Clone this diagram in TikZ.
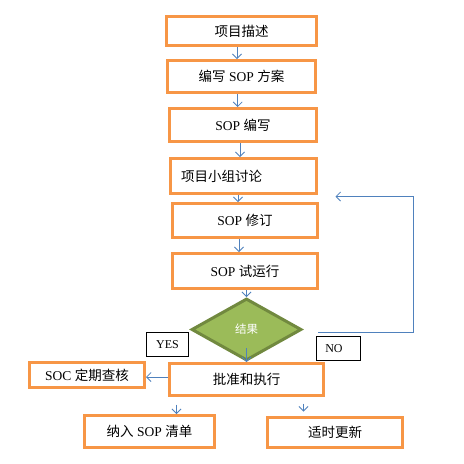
\documentclass[tikz,border=0pt]{standalone}
\usepackage{fontspec}
\setmainfont{Liberation Serif}
\newfontfamily\cjk{Noto Sans CJK SC}
\usetikzlibrary{arrows.meta,shapes.geometric}
\definecolor{orng}{HTML}{F79646}
\definecolor{gfill}{HTML}{9BBB59}
\definecolor{gline}{HTML}{71893F}
\definecolor{blu}{HTML}{4F81BD}
\tikzset{
  obox/.style={draw=orng, line width=3pt, fill=white, inner sep=0pt,
    font=\fontsize{13.5pt}{16pt}\selectfont},
  lbox/.style={draw=black, line width=0.8pt, fill=white, inner sep=0pt,
    font=\fontsize{12pt}{14pt}\selectfont},
  dec/.style={diamond, draw=gline, fill=gfill, line width=3pt, inner sep=0pt,
    text=white, font=\fontsize{11.5pt}{14pt}\selectfont\cjk},
  arr/.style={draw=blu, line width=0.8pt, -{Straight Barb[length=4.5pt,width=9pt]}}
}
\begin{document}
\begin{tikzpicture}[x=1pt,y=-1pt]
\useasboundingbox[fill=white] (0,0) rectangle (464,464);
\node[obox, minimum width=150pt, minimum height=29pt] (b1) at (241.5,31) {\cjk 项目描述};
\node[obox, minimum width=148pt, minimum height=32pt] (b2) at (241.5,76.5) {{\cjk 编写} SOP {\cjk 方案}};
\node[obox, minimum width=147pt, minimum height=33pt] (b3) at (243,125) {SOP {\cjk 编写}};
\node[obox, minimum width=146pt, minimum height=35pt, inner xsep=10.5pt, text width=125pt, align=left] (b4) at (243.5,176) {\cjk 项目小组讨论};
\node[obox, minimum width=145pt, minimum height=34pt] (b5) at (245,220.5) {SOP {\cjk 修订}};
\node[obox, minimum width=145pt, minimum height=35pt] (b6) at (245,271) {SOP {\cjk 试运行}};
\node[dec, minimum width=110pt, minimum height=62pt] (d) at (246.5,329.5) {结果};
\node[obox, minimum width=154pt, minimum height=32pt] (ap) at (246.5,379.5) {\cjk 批准和执行};
\node[lbox, minimum width=42pt, minimum height=24pt] (yes) at (167.5,344.5) {YES};
\node[lbox, minimum width=44pt, minimum height=24pt] (no) at (338.5,348.5) {\hspace*{-9pt}NO};
\node[obox, minimum width=115pt, minimum height=25pt] (soc) at (87,375) {SOC {\cjk 定期查核}};
\node[obox, minimum width=130pt, minimum height=32pt] (na) at (149.5,431.5) {{\cjk 纳入} SOP {\cjk 清单}};
\node[obox, minimum width=135pt, minimum height=30pt] (sh) at (335,432.5) {\cjk 适时更新};
% vertical arrows
\draw[arr] ([xshift=-4.5pt]b1.south) -- ([xshift=-4.5pt]b1.south |- b2.north);
\draw[arr] ([xshift=-3.8pt]b2.south) -- ([xshift=-3.8pt]b2.south |- b3.north);
\draw[arr] ([xshift=-3pt]b3.south) -- ([xshift=-3pt]b3.south |- b4.north);
\draw[arr] ([xshift=-5.5pt]b4.south) -- ([xshift=-5.5pt]b4.south |- b5.north);
\draw[arr] ([xshift=-6pt]b5.south) -- ([xshift=-6pt]b5.south |- b6.north);
\draw[arr] (d.north |- b6.south) -- (d.north);
\draw[arr] ([yshift=-18.5pt]d.center) -- (d.center |- ap.north);
% feedback
\coordinate (fbs) at ([xshift=15pt,yshift=-2.5pt]d.east);
\coordinate (fbe) at ([xshift=17.5pt,yshift=-1.5pt]b4.south east);
\draw[arr] (fbs) -- ++(95,0) |- (fbe);
% from approve
\draw[arr] ([yshift=2.5pt]ap.west) -- ([yshift=2.5pt]ap.west -| soc.east);
\coordinate (s1) at ([xshift=8.5pt,yshift=-7.5pt]ap.south west);
\draw[arr] (s1) -- (s1 |- na.north);
\coordinate (s2) at ([xshift=-21.5pt,yshift=-6.5pt]ap.south east);
\draw[arr] (s2) -- ([yshift=4.5pt]s2 |- sh.north);
\end{tikzpicture}
\end{document}
